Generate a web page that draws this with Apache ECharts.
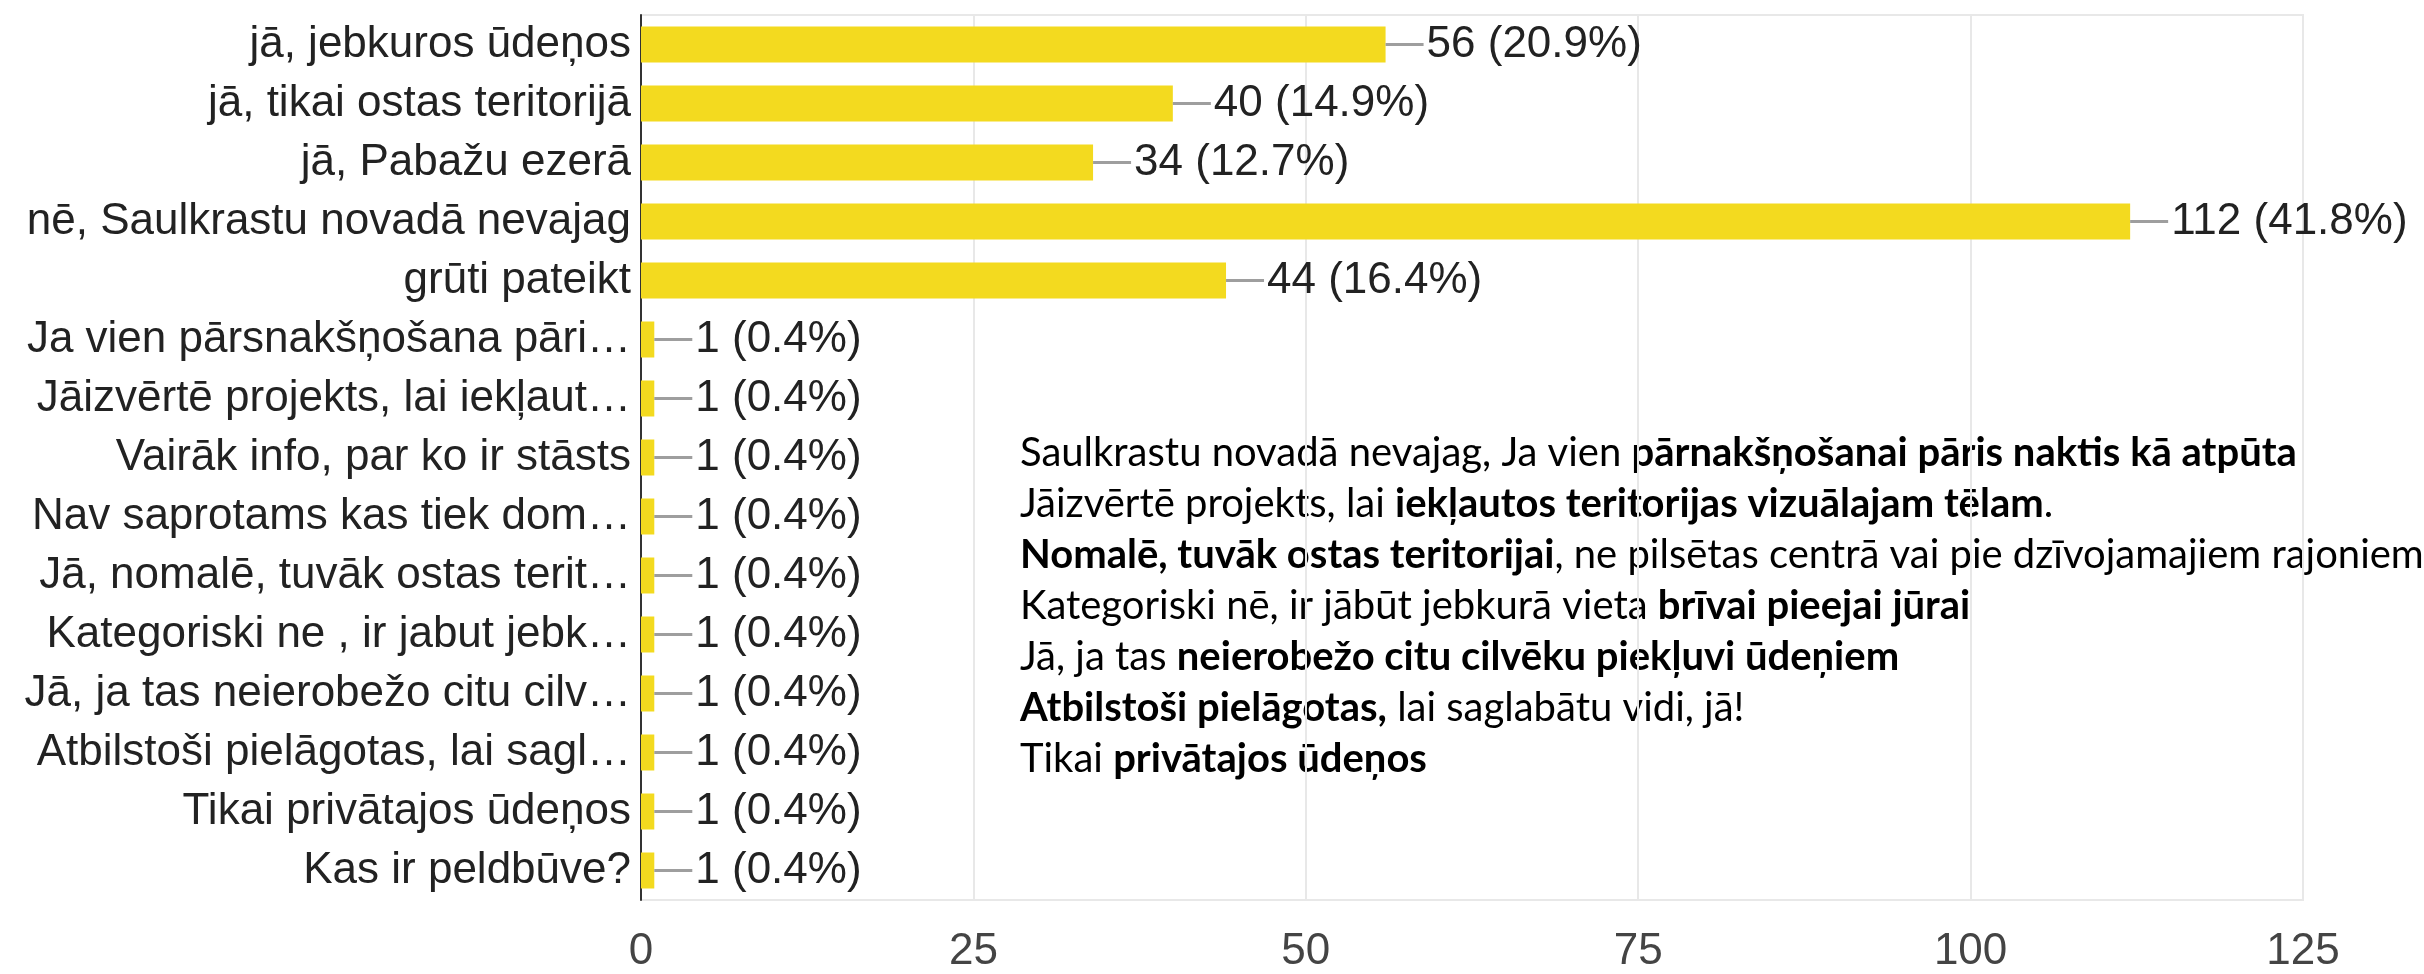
<!DOCTYPE html>
<html>
<head>
<meta charset="utf-8">
<script src="https://cdn.jsdelivr.net/npm/echarts@6/dist/echarts.min.js"></script>
<style>
  html, body { margin: 0; padding: 0; background: #fff; }
  #chart { width: 2424px; height: 974px; }
</style>
</head>
<body>
<div id="chart"></div>
<script>
// answers (top to bottom), counts and shares
var categories = [
    'jā, jebkuros ūdeņos',
    'jā, tikai ostas teritorijā',
    'jā, Pabažu ezerā',
    'nē, Saulkrastu novadā nevajag',
    'grūti pateikt',
    'Ja vien pārsnakšņošana pāri…',
    'Jāizvērtē projekts, lai iekļaut…',
    'Vairāk info, par ko ir stāsts',
    'Nav saprotams kas tiek dom…',
    'Jā, nomalē, tuvāk ostas terit…',
    'Kategoriski ne , ir jabut jebk…',
    'Jā, ja tas neierobežo citu cilv…',
    'Atbilstoši pielāgotas, lai sagl…',
    'Tikai privātajos ūdeņos',
    'Kas ir peldbūve?'
];
var counts = [56, 40, 34, 112, 44, 1, 1, 1, 1, 1, 1, 1, 1, 1, 1];
var percents = ['20.9', '14.9', '12.7', '41.8', '16.4', '0.4', '0.4', '0.4', '0.4', '0.4', '0.4', '0.4', '0.4', '0.4', '0.4'];
var xTicks = [0, 25, 50, 75, 100, 125];

// free-text answers shown in the note, [text, bold] pieces per line
var noteLines = [
    [['Saulkrastu novadā nevajag, Ja vien ', false], ['pārnakšņošanai pāris naktis kā atpūta', true]],
    [['Jāizvērtē projekts, lai ', false], ['iekļautos teritorijas vizuālajam tēlam', true], ['.', false]],
    [['Nomalē, tuvāk ostas teritorijai', true], [', ne pilsētas centrā vai pie dzīvojamajiem rajoniem', false]],
    [['Kategoriski nē, ir jābūt jebkurā vieta ', false], ['brīvai pieejai jūrai', true]],
    [['Jā, ja tas ', false], ['neierobežo citu cilvēku piekļuvi ūdeņiem', true]],
    [['Atbilstoši pielāgotas,', true], [' lai saglabātu vidi, jā!', false]],
    [['Tikai ', false], ['privātajos ūdeņos', true]]
];

var font = '"Liberation Sans", Arial, sans-serif';
var noteFont = 'Lato, sans-serif';

var noteText = noteLines.map(function(line) {
    return line.map(function(part) {
        return '{' + (part[1] ? 'b' : 'n') + '|' + part[0] + '}';
    }).join('');
}).join('\n');

var chart = echarts.init(document.getElementById('chart'));

var option = {
    backgroundColor: '#fff',
    animation: false,
    grid: {
        left: 641,
        right: 121,
        top: 15,
        bottom: 70,
        show: true,
        borderColor: '#e8e8e8',
        borderWidth: 2
    },
    xAxis: {
        type: 'value',
        min: xTicks[0],
        max: xTicks[xTicks.length - 1],
        interval: 25,
        axisLine: { show: false },
        axisTick: { show: false },
        splitLine: { lineStyle: { color: '#e8e8e8', width: 2 } },
        axisLabel: {
            fontSize: 44,
            fontFamily: font,
            color: '#444',
            margin: 30
        }
    },
    yAxis: {
        type: 'category',
        inverse: true,
        data: categories,
        axisTick: { show: false },
        axisLine: { lineStyle: { color: '#333', width: 2 } },
        axisLabel: {
            fontSize: 44,
            fontFamily: font,
            color: '#222',
            margin: 10
        }
    },
    series: [{
        type: 'bar',
        data: counts,
        barWidth: 36,
        itemStyle: { color: '#f3da1f' },
        label: {
            show: true,
            position: 'right',
            distance: 0,
            formatter: function(p) {
                return '{d| }{v|' + counts[p.dataIndex] + ' (' + percents[p.dataIndex] + '%)}';
            },
            rich: {
                d: { width: 38, height: 3, backgroundColor: '#9e9e9e' },
                v: { fontSize: 44, fontFamily: font, color: '#222', padding: [0, 0, 0, 3] }
            }
        }
    }],
    graphic: [{
        type: 'text',
        left: 1020,
        top: 428,
        style: {
            text: noteText,
            fontSize: 40,
            fontFamily: noteFont,
            fill: '#000',
            lineHeight: 51,
            rich: {
                n: { fontSize: 40, fontFamily: noteFont, fill: '#000', lineHeight: 51 },
                b: { fontSize: 40, fontFamily: noteFont, fontWeight: 'bold', fill: '#000', lineHeight: 51 }
            }
        }
    }]
};

chart.setOption(option);
</script>
</body>
</html>
